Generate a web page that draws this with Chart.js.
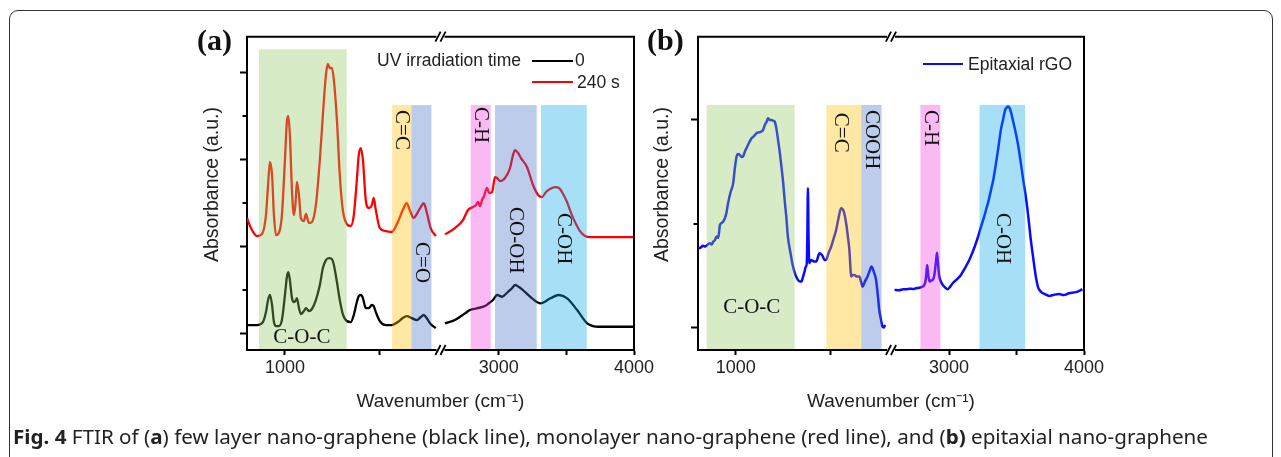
<!DOCTYPE html>
<html>
<head>
<meta charset="utf-8">
<script src="https://cdn.jsdelivr.net/npm/chart.js@4.4.1/dist/chart.umd.min.js"></script>
<style>
html,body{margin:0;padding:0;background:#fff;width:1281px;height:457px;overflow:hidden;}
#frame{position:absolute;left:9px;top:10px;width:1264px;height:480px;border:1.5px solid #333;border-radius:9px;box-sizing:border-box;}
.wrap{position:absolute;top:0;width:520px;height:440px;}
#wa{left:150px}
#wb{left:600px}
.plabel{position:absolute;font-family:"Liberation Serif";font-weight:bold;font-size:30px;line-height:30px;color:#111;}
.leg{position:absolute;font-family:"Liberation Sans";font-size:17.5px;line-height:20px;color:#222;white-space:nowrap;}
.legline{position:absolute;}
#caption{position:absolute;left:13px;top:426px;font-family:"Noto Sans";font-size:19px;line-height:22px;color:#222;white-space:nowrap;transform-origin:0 50%;}
</style>
</head>
<body>
<div id="frame"></div>
<div class="wrap" id="wa"><canvas id="ca" width="520" height="440"></canvas></div>
<div class="wrap" id="wb"><canvas id="cb" width="520" height="440"></canvas></div>
<div class="plabel" style="left:197px;top:25px">(a)</div>
<div class="plabel" style="left:647px;top:25px">(b)</div>
<div id="legA"></div>
<div id="legB"></div>
<div id="caption"><b>Fig. 4</b> FTIR of (<b>a</b>) few layer nano-graphene (black line), monolayer nano-graphene (red line), and (<b>b)</b> epitaxial nano-graphene</div>
<script>
// ---------- axis ticks & titles ----------
const wnTicksLow = [1000, 1500];
const wnTickLabelsLow = ['1000', ''];
const wnTicksHigh = [3000, 3500, 4000];
const wnTickLabelsHigh = ['3000', '', '4000'];
const absMajorA = [0, 1, 2, 3];
const absMinorA = [0.5, 1.5, 2.5];
const absMajorB = [0, 1];
const absMinorB = [0.5];
const xTitle = 'Wavenumber (cm\u207B\u00B9)';
const yTitle = 'Absorbance (a.u.)';

// ---------- series names ----------
const legendTitleA = 'UV irradiation time';
const seriesNamesA = ['0', '240 s'];
const seriesNamesB = ['Epitaxial rGO'];

// ---------- panel (a): 240 s (red) ----------
const redLowWn = [800,821,853,879,900,911,921,932,942,953,968,984,1000,1011,1018,1026,1037,1047,1055,1063,1074,1084,1100,1111,1126,1142,1163,1184,1200,1216,1226,1237,1247,1258,1274,1289,1305,1326,1347,1363,1379,1389,1400,1411,1426,1442,1458,1468,1479,1500,1532,1563,1595,1621,1642,1658,1679,1695,1716,1732,1747,1768,1795];
const redLowAbs = [1.322,1.207,1.115,1.138,1.356,1.70,1.966,1.816,1.356,1.126,1.15,1.356,1.99,2.448,2.494,2.276,1.644,1.356,1.47,1.736,1.586,1.32,1.287,1.368,1.264,1.276,1.47,1.99,2.506,2.966,3.092,3.046,3.046,2.908,2.448,1.816,1.414,1.253,1.23,1.356,1.759,2.046,2.126,1.989,1.529,1.437,1.47,1.552,1.414,1.207,1.172,1.161,1.276,1.414,1.494,1.414,1.322,1.368,1.448,1.494,1.391,1.207,1.115];
const redHighWn = [2603,2677,2736,2773,2810,2832,2847,2862,2877,2892,2914,2929,2951,2973,2988,3010,3047,3084,3106,3121,3143,3165,3209,3254,3291,3320,3350,3379,3416,3446,3476,3505,3535,3564,3601,3638,3675,3734,3823,3911,4000];
const redHighAbs = [1.134,1.207,1.299,1.414,1.448,1.471,1.506,1.46,1.529,1.575,1.667,1.609,1.621,1.793,1.782,1.747,1.782,1.897,2.046,2.103,2.069,2.011,1.908,1.701,1.586,1.563,1.621,1.655,1.678,1.667,1.598,1.506,1.379,1.276,1.172,1.115,1.103,1.103,1.103,1.103,1.103];

// ---------- panel (a): 0 s (black) ----------
const blackLowWn = [800,853,884,900,911,921,932,942,953,968,984,1000,1011,1018,1026,1037,1047,1058,1063,1074,1084,1100,1111,1126,1142,1163,1184,1200,1216,1232,1247,1258,1274,1289,1305,1326,1347,1363,1379,1389,1400,1411,1426,1442,1458,1468,1479,1500,1532,1563,1595,1621,1642,1668,1695,1716,1732,1747,1768,1795];
const blackLowAbs = [0.092,0.092,0.126,0.241,0.379,0.437,0.322,0.126,0.08,0.08,0.149,0.437,0.655,0.701,0.609,0.402,0.356,0.379,0.402,0.287,0.218,0.253,0.287,0.253,0.276,0.379,0.552,0.747,0.839,0.862,0.851,0.782,0.586,0.379,0.218,0.138,0.126,0.207,0.356,0.425,0.437,0.402,0.287,0.287,0.322,0.31,0.241,0.138,0.092,0.092,0.126,0.172,0.195,0.172,0.149,0.184,0.207,0.172,0.103,0.057];
const blackHighWn = [2603,2677,2751,2788,2838,2899,2929,2958,2988,3025,3062,3099,3123,3150,3173,3247,3309,3383,3444,3506,3580,3654,3740,3850,4000];
const blackHighAbs = [0.111,0.149,0.226,0.264,0.284,0.31,0.345,0.379,0.437,0.417,0.463,0.517,0.552,0.529,0.502,0.399,0.341,0.399,0.437,0.399,0.264,0.111,0.072,0.072,0.072];

// ---------- panel (b): epitaxial rGO (blue) ----------
const blueLowWn = [802,815,826,837,850,863,872,881,890,898,907,916,929,942,950,959,972,986,995,1004,1012,1021,1030,1038,1047,1056,1070,1083,1096,1109,1122,1135,1144,1153,1162,1170,1179,1188,1196,1205,1214,1223,1232,1241,1250,1258,1267,1275,1289,1302,1315,1328,1337,1346,1355,1363,1370,1375,1378,1381,1384,1388,1398,1407,1416,1425,1442,1459,1468,1477,1490,1504,1517,1530,1543,1556,1570,1583,1592,1600,1605,1609,1618,1626,1640,1653,1662,1670,1683,1696,1706,1717,1729,1741,1750,1758,1767,1775,1782,1789];
const blueLowAbs = [0.383,0.387,0.395,0.391,0.40,0.407,0.401,0.415,0.423,0.439,0.433,0.495,0.507,0.527,0.552,0.60,0.652,0.696,0.77,0.824,0.836,0.832,0.822,0.824,0.846,0.864,0.89,0.912,0.922,0.936,0.94,0.944,0.952,0.976,0.99,1.008,1.0,1.0,0.996,0.992,0.96,0.904,0.845,0.775,0.70,0.615,0.53,0.439,0.36,0.295,0.255,0.231,0.224,0.223,0.245,0.271,0.295,0.311,0.45,0.672,0.45,0.311,0.327,0.322,0.319,0.319,0.359,0.345,0.327,0.327,0.36,0.391,0.43,0.471,0.53,0.575,0.56,0.503,0.44,0.375,0.30,0.247,0.255,0.255,0.247,0.247,0.22,0.199,0.225,0.247,0.272,0.295,0.27,0.231,0.16,0.087,0.04,0.006,0.002,0.014];
const blueHighWn = [2596,2630,2660,2682,2710,2735,2756,2780,2805,2815,2825,2832,2838,2845,2855,2867,2879,2890,2899,2905,2911,2918,2928,2940,2953,2970,2990,3010,3027,3060,3088,3120,3150,3175,3199,3218,3237,3256,3274,3293,3311,3330,3348,3366,3384,3400,3416,3428,3438,3448,3458,3476,3495,3514,3532,3550,3569,3588,3606,3625,3643,3660,3680,3710,3742,3780,3816,3850,3890,3940,3988];
const blueHighAbs = [0.183,0.181,0.186,0.186,0.189,0.187,0.191,0.193,0.199,0.205,0.223,0.26,0.303,0.26,0.223,0.228,0.231,0.25,0.295,0.33,0.362,0.31,0.247,0.222,0.207,0.195,0.186,0.2,0.215,0.235,0.255,0.29,0.327,0.365,0.407,0.445,0.487,0.525,0.567,0.612,0.663,0.72,0.792,0.87,0.952,1.0,1.048,1.06,1.064,1.058,1.04,0.99,0.936,0.87,0.792,0.71,0.631,0.53,0.423,0.33,0.247,0.195,0.175,0.163,0.154,0.16,0.163,0.158,0.167,0.172,0.186];

// ---------- assignment bands (wavenumber ranges) ----------
const bandsA = [
  {axis:'x',  from:863,  to:1326, top:3.26, color:'rgba(144,201,98,0.36)'},
  {axis:'x',  from:1565, to:1667, top:2.62, color:'rgba(255,192,0,0.36)'},
  {axis:'x',  from:1667, to:1772, top:2.62, color:'rgba(68,114,196,0.36)'},
  {axis:'x2', from:2793, to:2941, top:2.62, color:'rgba(240,60,220,0.36)'},
  {axis:'x2', from:2973, to:3281, top:2.62, color:'rgba(68,114,196,0.36)'},
  {axis:'x2', from:3313, to:3651, top:2.62, color:'rgba(10,170,230,0.36)'}
];
const labelsA = [
  {axis:'x',  x:1616, y:2.563, text:'C=C',   vertical:true},
  {axis:'x',  x:1720, y:1.046, text:'C=O',   vertical:true},
  {axis:'x2', x:2867, y:2.598, text:'C-H',   vertical:true},
  {axis:'x2', x:3127, y:1.448, text:'CO-OH', vertical:true},
  {axis:'x2', x:3482, y:1.379, text:'C-OH',  vertical:true},
  {axis:'x',  x:1089, y:-0.046, text:'C-O-C', vertical:false}
];
const bandsB = [
  {axis:'x',  from:846,  to:1311, top:1.072, color:'rgba(144,201,98,0.36)'},
  {axis:'x',  from:1478, to:1663, top:1.072, color:'rgba(255,192,0,0.36)'},
  {axis:'x',  from:1663, to:1770, top:1.072, color:'rgba(68,114,196,0.36)'},
  {axis:'x2', from:2788, to:2936, top:1.072, color:'rgba(240,60,220,0.36)'},
  {axis:'x2', from:3226, to:3564, top:1.072, color:'rgba(10,170,230,0.36)'}
];
const labelsB = [
  {axis:'x',  x:1555, y:1.034, text:'C=C',  vertical:true},
  {axis:'x',  x:1716, y:1.048, text:'COOH', vertical:true},
  {axis:'x2', x:2862, y:1.048, text:'C-H',  vertical:true},
  {axis:'x2', x:3395, y:0.553, text:'C-OH', vertical:true},
  {axis:'x',  x:1084, y:0.096, text:'C-O-C', vertical:false}
];

const pts = (xs, ys) => xs.map((x, i) => ({x, y: ys[i]}));

function decorPlugin(bands, labels, minorTicks) {
  return {
    id: 'decor',
    afterDatasetsDraw(chart) {
      const {ctx, chartArea: ca, scales} = chart;
      const ys = scales.y;
      ctx.save();
      for (const b of bands) {
        const sx = scales[b.axis];
        const x0 = sx.getPixelForValue(b.from), x1 = sx.getPixelForValue(b.to);
        const yt = ys.getPixelForValue(b.top);
        ctx.fillStyle = b.color;
        ctx.fillRect(x0, yt, x1 - x0, ca.bottom - 1 - yt);
      }
      ctx.fillStyle = '#111';
      ctx.font = '21px "Liberation Serif"';
      for (const l of labels) {
        const x = scales[l.axis].getPixelForValue(l.x);
        const y = ys.getPixelForValue(l.y);
        ctx.save();
        ctx.translate(x, y);
        if (l.vertical) { ctx.rotate(Math.PI / 2); ctx.textAlign = 'left'; }
        else { ctx.textAlign = 'center'; }
        ctx.textBaseline = 'middle';
        ctx.fillText(l.text, 0, 0);
        ctx.restore();
      }
      ctx.restore();
    },
    afterDraw(chart) {
      const {ctx, chartArea: ca, scales} = chart;
      ctx.save();
      // y-axis title
      ctx.save();
      ctx.translate(63, 184.5);
      ctx.rotate(-Math.PI / 2);
      ctx.fillStyle = '#222';
      ctx.font = '19.5px "Liberation Sans"';
      ctx.textAlign = 'center';
      ctx.textBaseline = 'middle';
      ctx.fillText(yTitle, 0, 0);
      ctx.restore();
      // top and right frame
      ctx.strokeStyle = '#000';
      ctx.lineWidth = 2;
      ctx.beginPath();
      ctx.moveTo(ca.left - 1, ca.top);
      ctx.lineTo(ca.right, ca.top);
      ctx.lineTo(ca.right, ca.bottom + 1);
      ctx.stroke();
      // minor y ticks
      ctx.beginPath();
      for (const v of minorTicks) {
        const py = Math.round(scales.y.getPixelForValue(v));
        ctx.moveTo(ca.left - 4.5, py);
        ctx.lineTo(ca.left, py);
      }
      ctx.stroke();
      // axis break marks
      const bx = scales.x.right;
      for (const yy of [ca.top, ca.bottom]) {
        ctx.fillStyle = '#fff';
        ctx.fillRect(bx - 4, yy - 2, 8, 4);
        ctx.beginPath();
        for (const dx of [-2.5, 2.5]) {
          ctx.moveTo(bx + dx - 2.6, yy + 5);
          ctx.lineTo(bx + dx + 2.6, yy - 5);
        }
        ctx.lineWidth = 1.8;
        ctx.stroke();
      }
      ctx.restore();
    }
  };
}

function xAxis(min, max, ticks, labels) {
  return {
    type: 'linear', position: 'bottom', stack: 'wn', stackWeight: 1, min, max,
    afterBuildTicks: s => { s.ticks = ticks.map(v => ({value: v})); },
    afterFit: s => { s.height = 40.3; },
    ticks: { autoSkip: false, maxRotation: 0, padding: 2, color: '#222',
      font: {family: 'Liberation Sans', size: 18},
      callback: (v, i) => labels[i] },
    grid: { drawOnChartArea: false, drawTicks: true, tickLength: 5, tickWidth: 2, tickColor: '#000' },
    border: { display: true, color: '#000', width: 2 }
  };
}

function makeChart(id, datasets, yMin, yMax, majors, minors, yWidth, bands, labels) {
  return new Chart(document.getElementById(id), {
    type: 'line',
    data: { datasets },
    options: {
      responsive: false, animation: false, devicePixelRatio: 1,
      layout: { padding: {left: 47.6, top: 36.7, right: 36, bottom: 26.9} },
      elements: { point: {radius: 0}, line: {cubicInterpolationMode: 'monotone'} },
      plugins: {
        legend: {display: false}, tooltip: {enabled: false},
        title: { display: true, text: xTitle, position: 'bottom', fullSize: false,
          padding: 0, color: '#222', font: {family: 'Liberation Sans', size: 19, weight: 'normal'} }
      },
      scales: {
        x: xAxis(800, 1820, wnTicksLow, wnTickLabelsLow),
        x2: xAxis(2570, 4000, wnTicksHigh, wnTickLabelsHigh),
        y: {
          type: 'linear', position: 'left', min: yMin, max: yMax,
          afterBuildTicks: s => { s.ticks = majors.map(v => ({value: v})); },
          afterFit: s => { s.width = yWidth; },
          ticks: { display: false },
          grid: { drawOnChartArea: false, tickLength: 7, tickWidth: 2, tickColor: '#000' },
          border: { color: '#000', width: 2 },
          title: { display: false, text: yTitle }
        }
      }
    },
    plugins: [decorPlugin(bands, labels, minors)]
  });
}

makeChart('ca', [
  {label: seriesNamesA[0], data: pts(blackLowWn, blackLowAbs), xAxisID: 'x', yAxisID: 'y', borderColor: '#000', borderWidth: 2.3},
  {label: seriesNamesA[0], data: pts(blackHighWn, blackHighAbs), xAxisID: 'x2', yAxisID: 'y', borderColor: '#000', borderWidth: 2.3},
  {label: seriesNamesA[1], data: pts(redLowWn, redLowAbs), xAxisID: 'x', yAxisID: 'y', borderColor: '#ff0000', borderWidth: 2.3},
  {label: seriesNamesA[1], data: pts(redHighWn, redHighAbs), xAxisID: 'x2', yAxisID: 'y', borderColor: '#ff0000', borderWidth: 2.3}
], -0.195, 3.406, absMajorA, absMinorA, 49.4, bandsA, labelsA);

makeChart('cb', [
  {label: seriesNamesB[0], data: pts(blueLowWn, blueLowAbs), xAxisID: 'x', yAxisID: 'y', borderColor: '#0a0aff', borderWidth: 2.5},
  {label: seriesNamesB[0], data: pts(blueHighWn, blueHighAbs), xAxisID: 'x2', yAxisID: 'y', borderColor: '#0a0aff', borderWidth: 2.5}
], -0.106, 1.4, absMajorB, absMinorB, 50.4, bandsB, labelsB);

// ---------- legends (HTML text) ----------
function addText(parent, text, left, top) {
  const d = document.createElement('div');
  d.className = 'leg'; d.textContent = text;
  d.style.left = left + 'px'; d.style.top = top + 'px';
  parent.appendChild(d);
}
function addLine(parent, color, left, top, w, h) {
  const d = document.createElement('div');
  d.className = 'legline';
  d.style.cssText = `left:${left}px;top:${top}px;width:${w}px;height:${h}px;background:${color}`;
  parent.appendChild(d);
}
const legA = document.getElementById('legA');
addText(legA, legendTitleA, 377, 50);
addLine(legA, '#000', 532, 59.7, 41, 2);
addText(legA, seriesNamesA[0], 575, 50);
addLine(legA, '#ff0000', 532, 80.7, 41, 2);
addText(legA, seriesNamesA[1], 577, 71.5);
const legB = document.getElementById('legB');
addLine(legB, '#0a0aff', 923, 62.8, 40, 2.5);
addText(legB, seriesNamesB[0], 968, 54);

// caption: fit to the reference line length
const cap = document.getElementById('caption');
const capW = cap.getBoundingClientRect().width;
cap.style.transform = `scaleX(${(1195 / capW).toFixed(4)})`;
</script>
</body>
</html>
